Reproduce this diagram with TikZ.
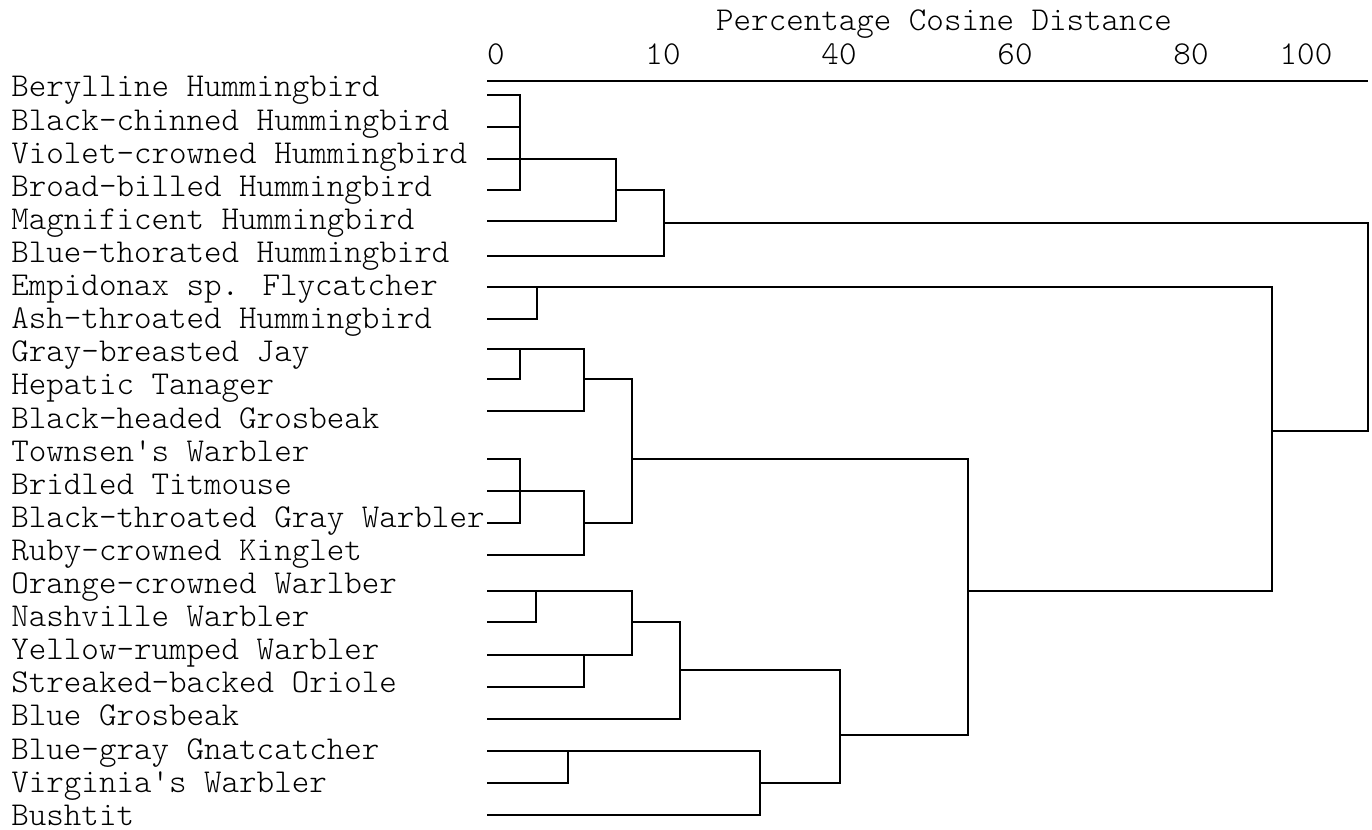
\documentclass[tikz,border=0pt]{standalone}
\usepackage{fontspec}
\newfontfamily\birdfont{lmmonolt10-regular.otf}

\begin{document}
\begin{tikzpicture}
    [
    x=0.5pt,
    y=-0.5pt,
    bird/.style={
        anchor=base west,
        inner sep=0pt,
        font=\birdfont\fontsize{16.69}{19}\selectfont
    },
    tick/.style={bird, anchor=base},
    link/.style={line width=1pt, line join=miter}
    ]
    \useasboundingbox (0,0) rectangle (1372,830);

% Axis
    \node[tick] (title) at (944,31) {Percentage Cosine Distance};
    \node[tick] (n0) at (496,64) {0};
    \node[tick] (n10) at (663,64) {10};
    \node[tick] (n40) at (839,64) {40};
    \node[tick] (n60) at (1015,64) {60};
    \node[tick] (n80) at (1191,64) {80};
    \node[tick] (n100) at (1306,64) {100};
    \coordinate (ax0) at (487,81);
    \coordinate (ax1) at (1368,81);
    \draw[link] (ax0) -- (ax1);

% Species
    \node[bird] (b0) at (11,97) {Berylline Hummingbird};
    \node[bird] (b1) at (11,130.1) {Black-chinned Hummingbird};
    \node[bird] (b2) at (11,163.2) {Violet-crowned Hummingbird};
    \node[bird] (b3) at (11,196.3) {Broad-billed Hummingbird};
    \node[bird] (b4) at (11,229.4) {Magnificent Hummingbird};
    \node[bird] (b5) at (11,262.5) {Blue-thorated Hummingbird};
    \node[bird] (b6) at (11,295.6) {Empidonax sp. Flycatcher};
    \node[bird] (b7) at (11,328.7) {Ash-throated Hummingbird};
    \node[bird] (b8) at (11,361.8) {Gray-breasted Jay};
    \node[bird] (b9) at (11,394.9) {Hepatic Tanager};
    \node[bird] (b10) at (11,428) {Black-headed Grosbeak};
    \node[bird] (b11) at (11,461.1) {Townsen's Warbler};
    \node[bird] (b12) at (11,494.2) {Bridled Titmouse};
    \node[bird] (b13) at (11,527.3) {Black-throated Gray Warbler};
    \node[bird] (b14) at (11,560.4) {Ruby-crowned Kinglet};
    \node[bird] (b15) at (11,593.5) {Orange-crowned Warlber};
    \node[bird] (b16) at (11,626.6) {Nashville Warbler};
    \node[bird] (b17) at (11,659.7) {Yellow-rumped Warbler};
    \node[bird] (b18) at (11,692.8) {Streaked-backed Oriole};
    \node[bird] (b19) at (11,725.9) {Blue Grosbeak};
    \node[bird] (b20) at (11,759) {Blue-gray Gnatcatcher};
    \node[bird] (b21) at (11,792.1) {Virginia's Warbler};
    \node[bird] (b22) at (11,825.2) {Bushtit};

% Leaf ends
    \coordinate (s0) at (487,95);
    \coordinate (s1) at (487,127);
    \coordinate (s2) at (487,159);
    \coordinate (s3) at (487,190);
    \coordinate (s4) at (487,221);
    \coordinate (s5) at (487,255.7);
    \coordinate (s6) at (487,287);
    \coordinate (s7) at (487,318.7);
    \coordinate (s8) at (487,349);
    \coordinate (s9) at (487,379.3);
    \coordinate (s10) at (487,411.3);
    \coordinate (s11) at (487,458.5);
    \coordinate (s12) at (487,491.3);
    \coordinate (s13) at (487,522.7);
    \coordinate (s14) at (487,555.3);
    \coordinate (s15) at (487,591);
    \coordinate (s16) at (487,622.3);
    \coordinate (s17) at (487,654.7);
    \coordinate (s18) at (487,686.7);
    \coordinate (s19) at (487,719);
    \coordinate (s20) at (487,751);
    \coordinate (s21) at (487,782.7);
    \coordinate (s22) at (487,815);

% Merge points
    \coordinate (hum1) at (520,159);
    \coordinate (hum2) at (616,190);
    \coordinate (hum3) at (664,222.5);
    \coordinate (fly) at (536.5,287);
    \coordinate (jay1) at (520,349);
    \coordinate (jay2) at (584,379.3);
    \coordinate (tit1) at (520,491.3);
    \coordinate (tit2) at (584,522.7);
    \coordinate (mix) at (632.3,458.7);
    \coordinate (war1) at (536,591);
    \coordinate (war2) at (584,654.7);
    \coordinate (war3) at (632,622.3);
    \coordinate (war4) at (680,670.3);
    \coordinate (gna1) at (568.3,751);
    \coordinate (gna2) at (760,782.7);
    \coordinate (low) at (840,735.3);
    \coordinate (mid) at (968.3,591.3);
    \coordinate (big) at (1272.3,430.7);
    \coordinate (root) at (1368.3,430.7);

% Hummingbirds
    \draw[link] (s0) -| (hum1) |- (s3);
    \draw[link] (s1) -- (s1 -| hum1);
    \draw[link] (s2) -- (hum1);
    \draw[link] (hum1) -| (hum2) |- (s4);
    \draw[link] (hum2) -| (hum3) |- (s5);

% Flycatcher pair
    \draw[link] (s6) -- (fly);
    \draw[link] (s7) -| (fly);

% Jay group
    \draw[link] (s8) -- (jay1);
    \draw[link] (s9) -| (jay1);
    \draw[link] (jay1) -| (jay2) |- (s10);
    \draw[link] (s11) -| (tit1) |- (s13);
    \draw[link] (s12) -- (tit1);
    \draw[link] (tit1) -| (tit2) |- (s14);
    \draw[link] (jay2) -| (mix) |- (tit2);

% Warbler group
    \draw[link] (s15) -- (war1);
    \draw[link] (s16) -| (war1);
    \draw[link] (s17) -- (war2);
    \draw[link] (s18) -| (war2);
    \draw[link] (war1) -| (war3) |- (war2);
    \draw[link] (war3) -| (war4) |- (s19);
    \draw[link] (s20) -- (gna1);
    \draw[link] (s21) -| (gna1);
    \draw[link] (gna1) -| (gna2) |- (s22);
    \draw[link] (war4) -| (low) |- (gna2);

% Top joins
    \draw[link] (mix) -| (mid) |- (low);
    \draw[link] (fly) -| (big) |- (mid);
    \draw[link] (hum3) -| (root) -- (big);

\end{tikzpicture}
\end{document}
